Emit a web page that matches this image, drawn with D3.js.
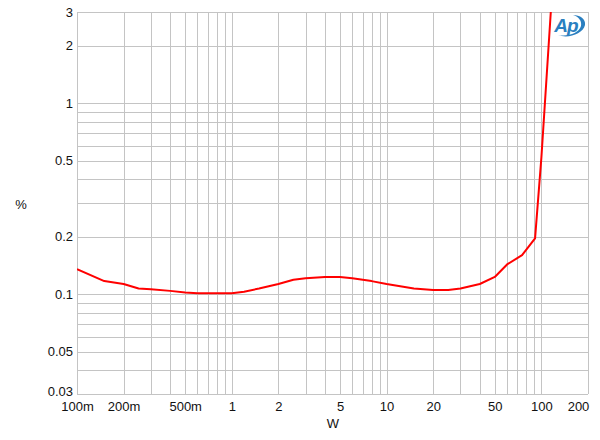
<!DOCTYPE html>
<html><head><meta charset="utf-8">
<script src="https://cdn.jsdelivr.net/npm/d3@7"></script>
<style>body{margin:0;background:#fff}svg{display:block;font-family:"Liberation Sans",Arial,sans-serif}</style>
</head><body><svg id="c" width="600" height="440"></svg>
<script>
const powerW = [0.1,0.15,0.2,0.25,0.3,0.4,0.5,0.6,0.8,1,1.2,1.5,2,2.5,3,4,5,6,8,10,15,20,25,30,40,50,60,75,91,100,115];
const thdPct = [0.135,0.117,0.113,0.107,0.106,0.104,0.102,0.101,0.101,0.101,0.103,0.107,0.113,0.119,0.121,0.123,0.123,0.121,0.117,0.113,0.107,0.105,0.105,0.107,0.113,0.123,0.143,0.160,0.196,0.52,3.0];
const xTickVals = [0.1,0.2,0.5,1,2,5,10,20,50,100,200];
const xTickText = ["100m","200m","500m","1","2","5","10","20","50","100","200"];
const yTickVals = [3,2,1,0.5,0.2,0.1,0.05,0.03];
const yTickText = ["3","2","1","0.5","0.2","0.1","0.05","0.03"];

const L=77,R=588,T=12,B=394;
const svg=d3.select("#c");
const x=d3.scaleLog().domain([0.1,200]).range([L,R]);
const y=d3.scaleLog().domain([0.03,3]).range([B,T]);

// grid lines
const xg=[];
for(const d of [0.1,1,10,100]) for(let k=1;k<10;k++){const v=d*k; if(v<=200.0001) xg.push(v);}
xg.push(200);
const yg=[];
for(const d of [0.01,0.1,1]) for(let k=1;k<10;k++){const v=d*k; if(v>=0.0299&&v<=3.0001) yg.push(v);}
const g=svg.append("g").attr("shape-rendering","crispEdges");
g.selectAll(".vx").data(xg).enter().append("line")
 .attr("x1",d=>Math.round(x(d))+0.5).attr("x2",d=>Math.round(x(d))+0.5)
 .attr("y1",T).attr("y2",B).attr("stroke","#c4c4c4");
g.selectAll(".hy").data(yg).enter().append("line")
 .attr("y1",d=>Math.round(y(d))+0.5).attr("y2",d=>Math.round(y(d))+0.5)
 .attr("x1",L).attr("x2",R).attr("stroke","#c4c4c4");

// axes labels via d3 axes
const xAxis=d3.axisBottom(x).tickValues(xTickVals).tickFormat((d,i)=>xTickText[i]).tickSize(0).tickPadding(0);
const xa=svg.append("g").attr("transform",`translate(0,${B+5})`).call(xAxis);
xa.select(".domain").remove();
xa.selectAll("text").attr("font-size",13).attr("fill","#111").attr("font-family","Liberation Sans, Arial, sans-serif")
 .attr("dy","0.9em")
 .attr("dx",(d,i)=>i===xTickVals.length-1?-10:0);
const yAxis=d3.axisLeft(y).tickValues(yTickVals).tickFormat((d,i)=>yTickText[i]).tickSize(0).tickPadding(4);
const ya=svg.append("g").attr("transform",`translate(${L},0)`).call(yAxis);
ya.select(".domain").remove();
ya.selectAll("text").attr("font-size",13).attr("fill","#111").attr("font-family","Liberation Sans, Arial, sans-serif")
 .attr("dy",(d,i)=>i===yTickVals.length-1?"0.1em":"0.32em");

svg.append("text").attr("x",21).attr("y",209).attr("text-anchor","middle").attr("font-size",13).attr("fill","#111").text("%");
svg.append("text").attr("x",333).attr("y",428).attr("text-anchor","middle").attr("font-size",13).attr("fill","#111").text("W");

// curve
svg.append("defs").append("clipPath").attr("id","cp").append("rect").attr("x",L).attr("y",T).attr("width",R-L).attr("height",B-T);
const line=d3.line().x(d=>x(d[0])).y(d=>y(d[1]));
svg.append("path").datum(powerW.map((p,i)=>[p,thdPct[i]])).attr("clip-path","url(#cp)")
 .attr("d",line).attr("fill","none").attr("stroke","#f00").attr("stroke-width",2).attr("stroke-linejoin","round");

// AP logo
const lg=svg.append("g").attr("transform","translate(570,26)");
lg.append("path").attr("d","M-12,9 C-2,13 13,8 15,-1 C16,-7 10,-11 3,-11 C9,-9 12,-5 11,0 C9,7 -2,11 -12,9 Z").attr("fill","#2a7fc0");
lg.append("text").attr("x",-4).attr("y",6).attr("text-anchor","middle").attr("font-size",19).attr("font-style","italic").attr("font-weight","bold").attr("fill","#2a7fc0").attr("font-family","Liberation Sans, Arial, sans-serif").attr("letter-spacing","-1").text("Ap");
</script></body></html>
